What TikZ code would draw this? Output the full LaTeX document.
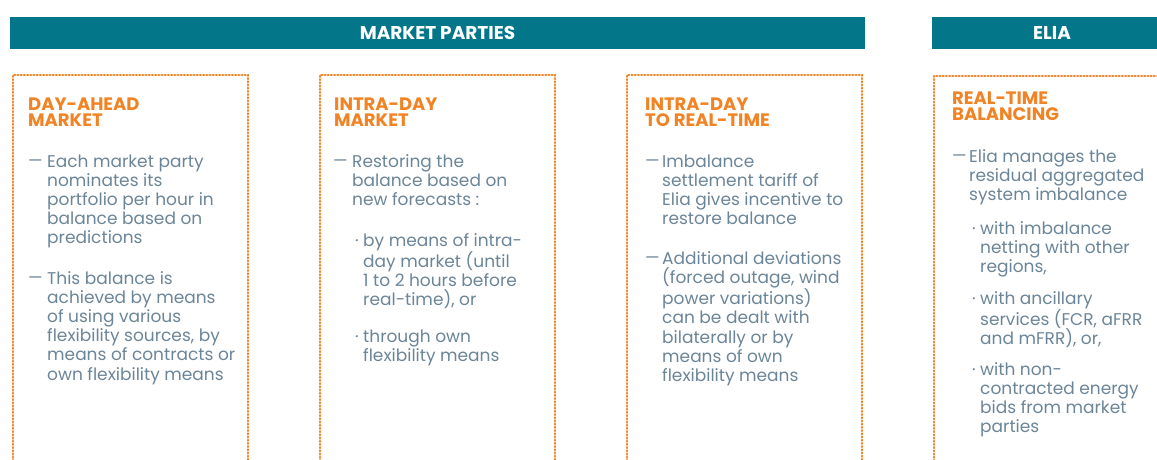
\documentclass[tikz,border=0pt]{standalone}
\usepackage{fontspec}
\setmainfont{Poppins}
\definecolor{teal}{HTML}{037689}
\definecolor{org}{HTML}{F28324}
\definecolor{txt}{HTML}{6B8598}
\newcommand\mlines[1]{\vtop{\hsize=300pt\raggedright\noindent#1}}
\newcommand\dsh{{\fontsize{16.5}{16.5}\selectfont —}}
\begin{document}
\begin{tikzpicture}[x=1pt,y=-1pt,
  hdr/.style={fill=teal, text=white, font=\bfseries\fontsize{18.5}{18.5}\selectfont, minimum height=32pt, inner sep=0},
  ttl/.style={anchor=base west, inner sep=0, text=org, font=\bfseries\fontsize{18}{16}\selectfont},
  body/.style={anchor=base west, inner sep=0, text=txt, font=\fontsize{17}{19.2}\selectfont},
  dotbox/.style={draw=org, line width=2.4pt, line cap=round, dash pattern=on 0.8pt off 2.4pt}]
\useasboundingbox (0,0) rectangle (1157,459);
\clip (0,0) rectangle (1157,459);
% headers
\node[hdr, minimum width=855pt] (mp) at (437.5,33) {MARKET PARTIES};
\node[hdr, minimum width=240pt] (elia) at (1052,33) {ELIA};
% boxes
\draw[dotbox] (13,480) -- (13,75) -- (248,75) -- (248,480);
\draw[dotbox] (320,480) -- (320,75) -- (555,75) -- (555,480);
\draw[dotbox] (627,480) -- (627,75) -- (862,75) -- (862,480);
\draw[dotbox] (934,480) -- (934,76) -- (1180,76);
% box 1
\node[ttl] (t1) at (28,110) {\mlines{DAY-AHEAD\\MARKET}};
\node[body] (d1a) at (28,166) {\dsh};
\node[body] (b1a) at (47,167) {\mlines{Each market party\\nominates its\\portfolio per hour in\\balance based on\\predictions}};
\node[body] (d1b) at (28,283) {\dsh};
\node[body] (b1b) at (47,284) {\mlines{This balance is\\achieved by means\\of using various\\flexibility sources, by\\means of contracts or\\own flexibility means}};
% box 2
\node[ttl] (t2) at (334,110) {\mlines{INTRA-DAY\\MARKET}};
\node[body] (d2a) at (333,166) {\dsh};
\node[body] (b2a) at (352,167) {\mlines{Restoring the\\balance based on\\new forecasts :}};
\node[body] (p2a) at (355,246) {·};
\node[body] (b2b) at (363,246) {\mlines{by means of intra-\\day market (until\\1 to 2 hours before\\real-time), or}};
\node[body] (p2b) at (355,342) {·};
\node[body] (b2c) at (363,342) {\mlines{through own\\flexibility means}};
% box 3
\node[ttl] (t3) at (645,110) {\mlines{INTRA-DAY\\TO REAL-TIME}};
\node[body] (d3a) at (645,166) {\dsh};
\node[body] (b3a) at (662,167) {\mlines{Imbalance\\settlement tariff of\\Elia gives incentive to\\restore balance}};
\node[body] (d3b) at (645,263) {\dsh};
\node[body] (b3b) at (662,264) {\mlines{Additional deviations\\(forced outage, wind\\power variations)\\can be dealt with\\bilaterally or by\\means of own\\flexibility means}};
% box 4
\node[ttl] (t4) at (952,104) {\mlines{REAL-TIME\\BALANCING}};
\node[body] (d4a) at (952,161) {\dsh};
\node[body] (b4a) at (969,162) {\mlines{Elia manages the\\residual aggregated\\system imbalance}};
\node[body] (p4a) at (972,234) {·};
\node[body] (b4b) at (980,234) {\mlines{with imbalance\\netting with other\\regions,}};
\node[body] (p4b) at (972,304) {·};
\node[body] (b4c) at (980,304) {\mlines{with ancillary\\services (FCR, aFRR\\and mFRR), or,}};
\node[body] (p4c) at (972,375) {·};
\node[body] (b4d) at (980,375) {\mlines{with non-\\contracted energy\\bids from market\\parties}};
\end{tikzpicture}
\end{document}
